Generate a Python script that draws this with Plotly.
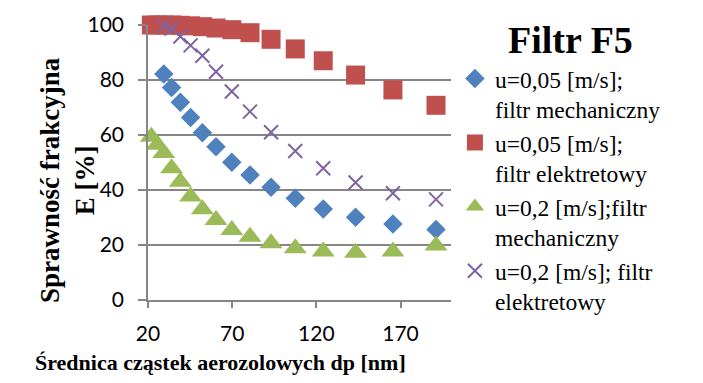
import plotly.graph_objects as go

# Particle diameters [nm]
dp_long = [22.0, 25.5, 29.4, 34.0, 39.2, 45.3, 52.3, 60.4, 69.8, 80.6, 93.1, 107.5, 124.1, 143.3, 165.5, 191.1]
dp_short = [29.4, 34.0, 39.2, 45.3, 52.3, 60.4, 69.8, 80.6, 93.1, 107.5, 124.1, 143.3, 165.5, 191.1]

# Fractional efficiency E [%]
mech_005 = [82.2, 77.3, 71.9, 66.4, 60.8, 55.7, 50.1, 45.5, 41.0, 37.0, 33.1, 30.1, 27.6, 25.6]
elek_005 = [100.0, 100.0, 100.0, 100.0, 99.9, 99.7, 99.4, 98.9, 98.3, 97.2, 94.8, 91.3, 87.0, 81.8, 76.4, 70.8]
mech_02 = [59.4, 56.5, 53.5, 47.9, 43.0, 37.6, 33.0, 29.1, 25.5, 23.0, 20.6, 18.8, 17.6, 17.2, 17.6, 19.8]
elek_02 = [99.5, 98.7, 95.8, 92.6, 88.8, 83.0, 75.8, 68.5, 61.0, 54.2, 47.9, 42.7, 38.8, 36.6]

names = [
    "u=0,05 [m/s];<br>filtr mechaniczny",
    "u=0,05 [m/s];<br>filtr elektretowy",
    "u=0,2 [m/s];filtr<br>mechaniczny",
    "u=0,2 [m/s]; filtr<br>elektretowy",
]
x_ticks = [20, 70, 120, 170]
y_ticks = [0, 20, 40, 60, 80, 100]

fig = go.Figure()
fig.add_trace(go.Scatter(x=dp_short, y=mech_005, mode="markers", name=names[0],
                         marker=dict(symbol="diamond", size=15, color="#4F81BD"), cliponaxis=False))
fig.add_trace(go.Scatter(x=dp_long, y=elek_005, mode="markers", name=names[1],
                         marker=dict(symbol="square", size=19, color="#C0504D"), cliponaxis=False))
fig.add_trace(go.Scatter(x=dp_long, y=mech_02, mode="markers", name=names[2],
                         marker=dict(symbol="triangle-up", size=20, color="#9BBB59"), cliponaxis=False))
fig.add_trace(go.Scatter(x=dp_short, y=elek_02, mode="markers", name=names[3],
                         marker=dict(symbol="x-thin", size=14, color="#8064A2",
                                     line=dict(width=2, color="#8064A2")), cliponaxis=False))

fig.update_layout(
    width=703, height=383,
    margin=dict(l=148, r=252, t=25, b=83),
    paper_bgcolor="white", plot_bgcolor="white",
    showlegend=True,
    legend=dict(x=1.013, y=0.885, xanchor="left", yanchor="top",
                font=dict(family="Liberation Serif", size=23.5, color="black"),
                valign="top", tracegroupgap=0, itemwidth=30, maxheight=380,
                bgcolor="rgba(0,0,0,0)"),
    xaxis=dict(range=[20, 200], tickvals=x_ticks, ticks="outside", ticklen=6,
               tickcolor="#868686", tickwidth=1.5,
               showline=True, linecolor="#868686", linewidth=1.5,
               showgrid=False, zeroline=False,
               tickfont=dict(family="Lato", size=21, color="black"),
               ticklabelstandoff=8),
    yaxis=dict(range=[0, 100], tickvals=y_ticks, ticks="outside", ticklen=8,
               tickcolor="#868686", tickwidth=1.5,
               showline=True, linecolor="#868686", linewidth=1.5,
               showgrid=True, gridcolor="#868686", gridwidth=1.5,
               zeroline=False,
               tickfont=dict(family="Lato", size=21, color="black"),
               ticklabelstandoff=10),
    annotations=[
        dict(text="<b>Filtr F5</b>", xref="paper", yref="paper",
             x=(570 - 148) / 303, y=(300 - 40) / 275, xanchor="center", yanchor="middle",
             showarrow=False, font=dict(family="Liberation Serif", size=38, color="black")),
        dict(text="<b>Średnica cząstek aerozolowych dp [nm]</b>", xref="paper", yref="paper",
             x=(220 - 148) / 303, y=(300 - 362) / 275, xanchor="center", yanchor="middle",
             showarrow=False, font=dict(family="Liberation Serif", size=22, color="black")),
        dict(text="<b>Sprawność frakcyjna<br>E [%]</b>", xref="paper", yref="paper",
             x=(67 - 148) / 303, y=(300 - 180) / 275, xanchor="center", yanchor="middle",
             textangle=-90, showarrow=False,
             font=dict(family="Liberation Serif", size=27, color="black")),
    ],
)

fig.write_html("out.html")
